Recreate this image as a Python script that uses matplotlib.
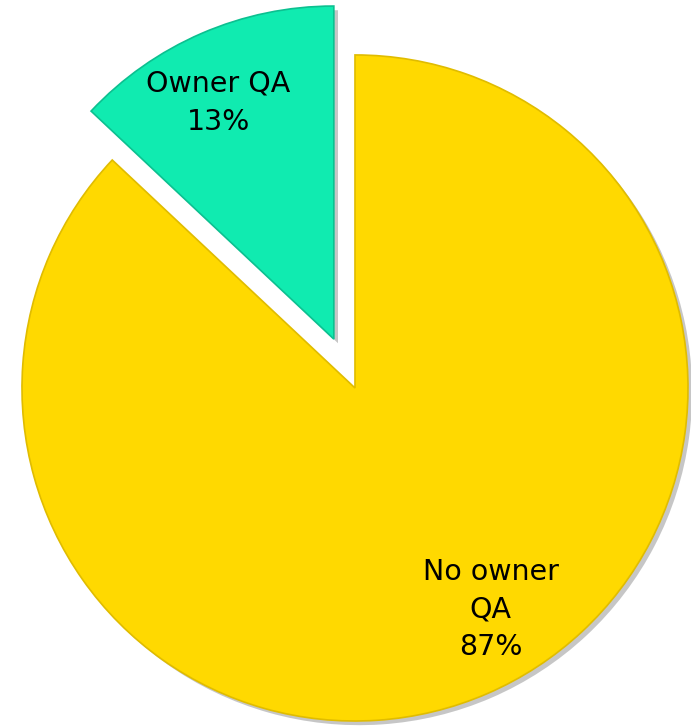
import matplotlib.pyplot as plt
import matplotlib.patheffects as pe
import numpy as np

labels = ['Owner QA', 'No owner\nQA']
shares = [13, 87]
colors = ['#10EBB0', '#FFD900']
edges = ['#0CC090', '#E0BC00']
explode = [0.16, 0]

fig = plt.figure(figsize=(6.91, 7.26), dpi=100)
ax = fig.add_axes([0, 0, 1, 1])

texts = [f'{l}\n{v}%' for l, v in zip(labels, shares)]
wedges, txt = ax.pie(shares, labels=texts, colors=colors, explode=explode,
                     startangle=90, counterclock=True, labeldistance=0.79,
                     wedgeprops=dict(linewidth=1.2),
                     textprops=dict(fontsize=20.5, ha='center', va='center',
                                    linespacing=1.45))

for w, ec in zip(wedges, edges):
    w.set_edgecolor(ec)
    w.set_path_effects([pe.SimplePatchShadow(offset=(3, -3), alpha=0.3, shadow_rgbFace='#444444'),
                        pe.Normal()])

# move the labels to where the reference has them
ang = np.deg2rad(-58.5)
txt[1].set_position((0.78 * np.cos(ang), 0.78 * np.sin(ang)))
ang = np.deg2rad(116)
cx, cy = 0.16 * np.cos(np.deg2rad(113.4)), 0.16 * np.sin(np.deg2rad(113.4))
txt[0].set_position((cx + 0.79 * np.cos(ang), cy + 0.79 * np.sin(ang)))

ax.set_aspect('auto')
ax.set_xlim(-1.066, 1.009)
ax.set_ylim(-1.015, 1.165)
ax.axis('off')

fig.savefig('out.png', dpi=100, facecolor='white')
